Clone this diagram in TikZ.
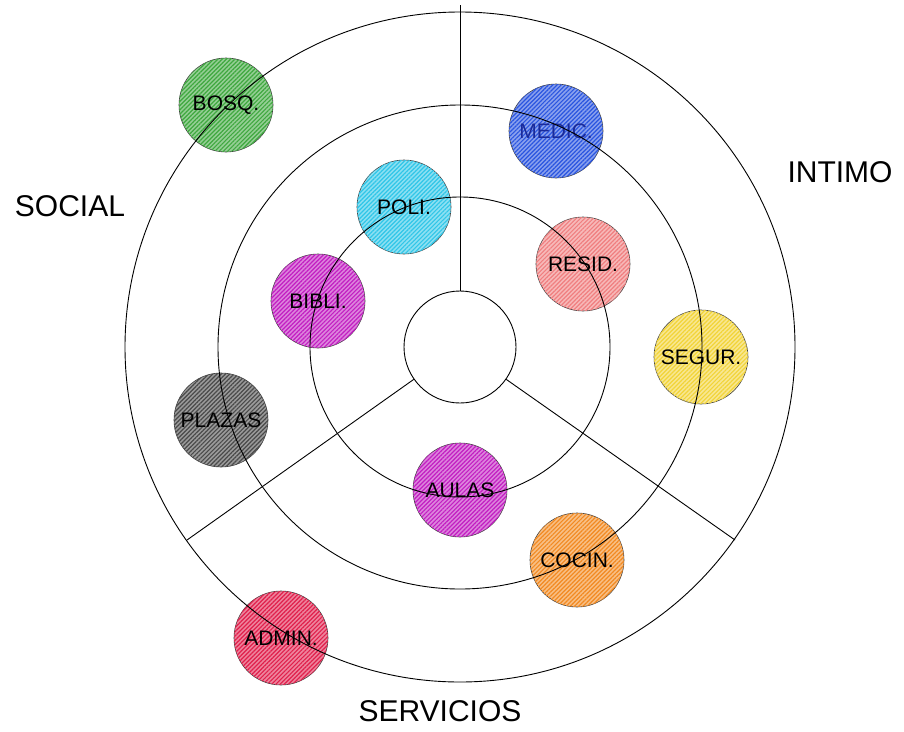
\documentclass[tikz,border=0pt]{standalone}
\usepackage{fontspec}
\setmainfont{Liberation Sans}
\usetikzlibrary{patterns.meta}
\definecolor{cbosq}{HTML}{3FA83F}
\definecolor{cmedic}{HTML}{2A55E0}
\definecolor{cpoli}{HTML}{30C6E8}
\definecolor{cresid}{HTML}{F07F80}
\definecolor{cbibli}{HTML}{C21FC2}
\definecolor{csegur}{HTML}{F2D438}
\definecolor{cplazas}{HTML}{4A4A4A}
\definecolor{ccocin}{HTML}{F28A22}
\definecolor{cadmin}{HTML}{E0204C}
\definecolor{medtext}{HTML}{1A2A9A}
\tikzset{
  zone/.style={circle, minimum size=94pt, inner sep=0pt, draw=black!75, line width=0.6pt,
    fill=#1!55!white,
    postaction={pattern={Lines[angle=45,distance=3pt,line width=1.2pt]}, pattern color=#1},
    font=\fontsize{21}{24}\selectfont},
  ring/.style={draw=black, line width=0.9pt},
  biglabel/.style={font=\fontsize{30}{34}\selectfont}
}
\begin{document}
\begin{tikzpicture}[x=1pt,y=-1pt]
\useasboundingbox (0,0) rectangle (904,731);
% zone circles
\node[zone=cbosq] (bosq) at (226,105) {BOSQ.};
\node[zone=cmedic, text=medtext] (medic) at (556,131) {MEDIC.};
\node[zone=cpoli] (poli) at (404,207) {POLI.};
\node[zone=cresid] (resid) at (583,264) {RESID.};
\node[zone=cbibli] (bibli) at (318,301) {BIBLI.};
\node[zone=csegur] (segur) at (701,357) {SEGUR.};
\node[zone=cplazas] (plazas) at (221,420) {PLAZAS};
\node[zone=cbibli] (aulas) at (460,490) {AULAS};
\node[zone=ccocin] (cocin) at (577,560) {COCIN.};
\node[zone=cadmin] (admin) at (281,638) {ADMIN.};
% rings
\node[circle, ring, minimum size=112pt, inner sep=0pt] (c0) at (460,347) {};
\coordinate (ctr) at (460,347);
\draw[ring] (ctr) circle[radius=150pt];
\draw[ring] (ctr) circle[radius=242pt];
\draw[ring] (ctr) circle[radius=335pt];
% dividers
\coordinate (top) at (460,5);
\coordinate (bl) at (187,540);
\coordinate (br) at (735,540);
\draw[ring] (c0.90) -- (top);
\draw[ring] (c0.215) -- (bl);
\draw[ring] (c0.-35) -- (br);
% sector labels
\node[biglabel] (social) at (70,206) {SOCIAL};
\node[biglabel] (intimo) at (840,172) {INTIMO};
\node[biglabel] (serv) at (440,711) {SERVICIOS};
\end{tikzpicture}
\end{document}
